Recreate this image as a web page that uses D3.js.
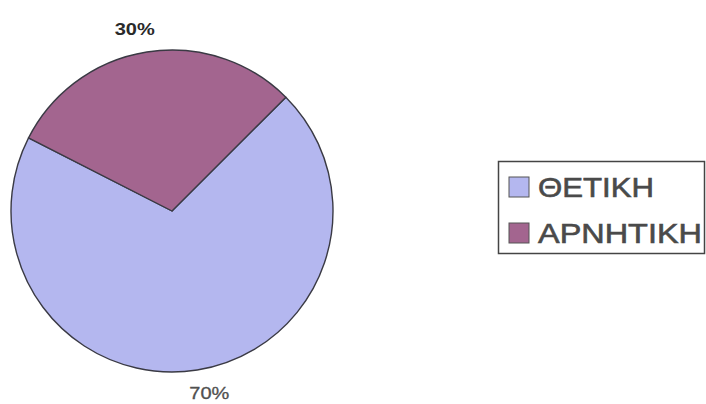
<!DOCTYPE html>
<html>
<head>
<meta charset="utf-8">
<script src="https://cdn.jsdelivr.net/npm/d3@7/dist/d3.min.js"></script>
<style>
  html, body { margin: 0; padding: 0; background: #fff; }
  svg { display: block; }
</style>
</head>
<body>
<svg id="chart" width="706" height="404"></svg>
<script>
// Survey answers: share of positive and negative responses
const categories = ["ΘΕΤΙΚΗ", "ΑΡΝΗΤΙΚΗ"];
const values = [70, 30];
const valueLabels = ["70%", "30%"];
const colors = ["#b4b7ef", "#a3658f"];

const svg = d3.select("#chart");
const cx = 172, cy = 211, radius = 161;

const data = categories.map((c, i) => ({ category: c, value: values[i], label: valueLabels[i] }));

const pie = d3.pie()
  .value(d => d.value)
  .sort(null)
  .startAngle(Math.PI / 4)
  .endAngle(Math.PI / 4 + 2 * Math.PI);

const arcs = pie(data);
const arc = d3.arc().innerRadius(0).outerRadius(radius);

const color = d3.scaleOrdinal().domain(categories).range(colors);

const g = svg.append("g").attr("transform", `translate(${cx},${cy})`);

g.selectAll("path.slice")
  .data(arcs)
  .join("path")
  .attr("class", "slice")
  .attr("d", arc)
  .attr("fill", d => color(d.data.category))
  .attr("stroke", "#3a3a44")
  .attr("stroke-width", 1.4)
  .attr("stroke-linejoin", "round");

// Percentage labels placed outside the rim
const labelR = 186;
const labelShift = -0.045;
g.selectAll("text.pct")
  .data(arcs)
  .join("text")
  .attr("class", "pct")
  .attr("x", d => labelR * Math.sin((d.startAngle + d.endAngle) / 2 + labelShift))
  .attr("y", d => -labelR * Math.cos((d.startAngle + d.endAngle) / 2 + labelShift))
  .attr("dy", "0.36em")
  .attr("text-anchor", "middle")
  .attr("font-family", "Arial, 'Liberation Sans', sans-serif")
  .attr("font-size", 17)
  .attr("font-weight", d => d.data.value < 50 ? "bold" : "normal")
  .attr("fill", d => d.data.value < 50 ? "#2a2a2a" : "#505050")
  .attr("stroke", d => d.data.value < 50 ? "none" : "#505050")
  .attr("stroke-width", 0.3)
  .attr("textLength", 40)
  .attr("lengthAdjust", "spacingAndGlyphs")
  .text(d => d.data.label);

// Legend
const legend = svg.append("g");
legend.append("rect")
  .attr("x", 498.5).attr("y", 161.5)
  .attr("width", 206).attr("height", 92)
  .attr("fill", "#fff")
  .attr("stroke", "#444")
  .attr("stroke-width", 1.5);

const rowY = d3.scalePoint().domain(categories).range([197, 243]);
const textLengths = [116, 164];

const items = legend.selectAll("g.item")
  .data(categories)
  .join("g")
  .attr("class", "item");

items.append("rect")
  .attr("x", 509)
  .attr("y", d => rowY(d) - 20)
  .attr("width", 20).attr("height", 20)
  .attr("fill", d => color(d))
  .attr("stroke", "#555")
  .attr("stroke-width", 1);

items.append("text")
  .attr("x", 538)
  .attr("y", d => rowY(d))
  .attr("font-family", "Arial, 'Liberation Sans', sans-serif")
  .attr("font-size", 28)
  .attr("fill", "#4a4a4a")
  .attr("stroke", "#4a4a4a")
  .attr("stroke-width", 0.6)
  .attr("textLength", (d, i) => textLengths[i])
  .attr("lengthAdjust", "spacingAndGlyphs")
  .text(d => d);
</script>
</body>
</html>
